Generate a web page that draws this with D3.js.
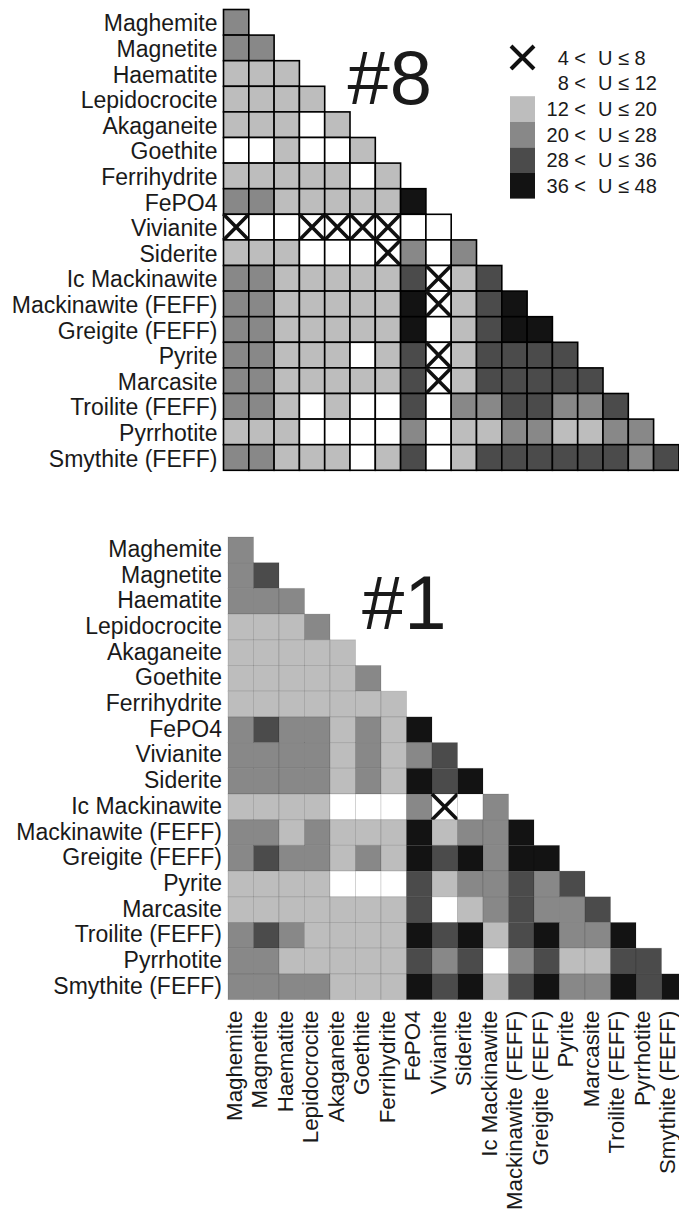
<!DOCTYPE html>
<html>
<head>
<meta charset="utf-8">
<script src="https://cdn.jsdelivr.net/npm/d3@7"></script>
<style>
  body { margin: 0; background: #fff; }
  text { font-family: "Liberation Sans", Arial, sans-serif; fill: #1a1a1a; }
</style>
</head>
<body>
<div id="chart"></div>
<script>
// Mineral names (rows and columns, same order)
var minerals = ["Maghemite", "Magnetite", "Haematite", "Lepidocrocite", "Akaganeite",
  "Goethite", "Ferrihydrite", "FePO4", "Vivianite", "Siderite", "Ic Mackinawite",
  "Mackinawite (FEFF)", "Greigite (FEFF)", "Pyrite", "Marcasite", "Troilite (FEFF)",
  "Pyrrhotite", "Smythite (FEFF)"];

// U classes: 0 = 4-8 (cross), 1 = 8-12, 2 = 12-20, 3 = 20-28, 4 = 28-36, 5 = 36-48
var classLow = [4, 8, 12, 20, 28, 36];
var classHigh = [8, 12, 20, 28, 36, 48];

// Panel #8, lower triangle, one row per mineral
var panel8 = [
  [3],
  [3, 3],
  [2, 2, 2],
  [2, 2, 2, 2],
  [2, 2, 2, 1, 2],
  [1, 1, 2, 1, 1, 2],
  [2, 2, 2, 2, 2, 1, 2],
  [3, 3, 2, 2, 2, 2, 2, 5],
  [0, 1, 1, 0, 0, 0, 0, 1, 1],
  [2, 2, 2, 1, 1, 1, 0, 3, 1, 3],
  [3, 3, 2, 2, 2, 2, 2, 4, 0, 2, 4],
  [3, 3, 2, 2, 2, 2, 2, 5, 0, 2, 4, 5],
  [3, 3, 2, 2, 2, 2, 2, 5, 1, 2, 4, 5, 5],
  [3, 3, 2, 2, 2, 1, 2, 4, 0, 2, 4, 4, 4, 4],
  [3, 3, 2, 2, 2, 2, 2, 4, 0, 2, 4, 4, 4, 4, 4],
  [3, 3, 2, 1, 2, 1, 1, 4, 1, 3, 3, 4, 4, 3, 3, 4],
  [2, 2, 2, 1, 1, 1, 1, 3, 1, 2, 2, 3, 3, 2, 2, 3, 3],
  [3, 3, 2, 2, 2, 1, 2, 4, 1, 2, 4, 4, 4, 4, 4, 4, 3, 4]
];

// Panel #1
var panel1 = [
  [3],
  [3, 4],
  [3, 3, 3],
  [2, 2, 2, 3],
  [2, 2, 2, 2, 2],
  [2, 2, 2, 2, 2, 3],
  [2, 2, 2, 2, 2, 2, 2],
  [3, 4, 3, 3, 2, 3, 2, 5],
  [3, 3, 3, 3, 2, 3, 2, 3, 4],
  [3, 3, 3, 3, 2, 3, 2, 5, 4, 5],
  [2, 2, 2, 2, 1, 1, 1, 3, 0, 1, 3],
  [3, 3, 2, 3, 2, 2, 2, 5, 2, 3, 3, 5],
  [3, 4, 3, 3, 2, 3, 2, 5, 4, 5, 3, 5, 5],
  [2, 2, 2, 2, 1, 1, 1, 4, 2, 3, 3, 4, 3, 4],
  [2, 2, 2, 2, 2, 2, 2, 4, 1, 2, 3, 4, 3, 3, 4],
  [3, 4, 3, 2, 2, 2, 2, 5, 4, 5, 2, 4, 5, 3, 3, 5],
  [3, 3, 2, 2, 2, 2, 2, 4, 3, 4, 1, 3, 4, 2, 2, 4, 4],
  [3, 3, 3, 3, 2, 2, 2, 5, 4, 5, 2, 4, 5, 3, 3, 5, 4, 5]
];

var svgWidth = 679;
var svgHeight = 1214;

var fill = d3.scaleOrdinal()
  .domain([0, 1, 2, 3, 4, 5])
  .range(["#ffffff", "#ffffff", "#bdbdbd", "#888888", "#4b4b4b", "#131313"]);

var svg = d3.select("#chart")
  .append("svg")
  .attr("width", svgWidth)
  .attr("height", svgHeight);

function cellsOf(matrix) {
  var out = [];
  matrix.forEach(function(row, i) {
    row.forEach(function(v, j) {
      out.push({ row: minerals[i], col: minerals[j], v: v });
    });
  });
  return out;
}

function drawPanel(opt) {
  var g = svg.append("g")
    .attr("transform", `translate(${opt.left}, ${opt.top})`);

  var x = d3.scaleBand().domain(minerals).range([0, opt.cellW * minerals.length]);
  var y = d3.scaleBand().domain(minerals).range([0, opt.cellH * minerals.length]);

  var cells = g.selectAll("g.cell")
    .data(cellsOf(opt.matrix))
    .enter()
    .append("g")
    .attr("class", "cell")
    .attr("transform", d => `translate(${x(d.col)}, ${y(d.row)})`);

  cells.append("rect")
    .attr("width", x.bandwidth())
    .attr("height", y.bandwidth())
    .attr("fill", d => fill(d.v))
    .attr("stroke", opt.stroke)
    .attr("stroke-opacity", opt.strokeOpacity)
    .attr("stroke-width", opt.strokeWidth);

  // crosses for the 4 < U <= 8 class
  cells.filter(d => d.v === 0)
    .append("path")
    .attr("d", `M0,0L${x.bandwidth()},${y.bandwidth()}M${x.bandwidth()},0L0,${y.bandwidth()}`)
    .attr("stroke", "#111")
    .attr("stroke-width", 3.6)
    .attr("fill", "none");

  // row labels
  g.selectAll("text.rowlab")
    .data(minerals)
    .enter()
    .append("text")
    .attr("class", "rowlab")
    .attr("x", -6)
    .attr("y", d => y(d) + y.bandwidth() / 2 + opt.rowDy)
    .attr("text-anchor", "end")
    .style("font-size", "23px")
    .text(d => d);

  // panel title
  g.append("text")
    .attr("x", opt.titleX)
    .attr("y", opt.titleY)
    .style("font-size", "76px")
    .text(opt.title);

  return { g: g, x: x, y: y };
}

var top8 = drawPanel({
  matrix: panel8, left: 223.5, top: 9.5, cellW: 25.3, cellH: 25.6,
  stroke: "#000", strokeOpacity: 1, strokeWidth: 1.6, rowDy: 9,
  title: "#8", titleX: 124, titleY: 94
});

var bottom1 = drawPanel({
  matrix: panel1, left: 228, top: 537, cellW: 25.5, cellH: 25.7,
  stroke: "#000", strokeOpacity: 0.12, strokeWidth: 1, rowDy: 7,
  title: "#1", titleX: 134, titleY: 92
});

// column labels below panel #1
var colLabelTop = bottom1.y.range()[1] + 11;
bottom1.g.selectAll("text.collab")
  .data(minerals)
  .enter()
  .append("text")
  .attr("class", "collab")
  .attr("transform", d => `translate(${bottom1.x(d) + bottom1.x.bandwidth() / 2 + 1}, ${colLabelTop}) rotate(-90)`)
  .attr("text-anchor", "end")
  .style("font-size", "22.3px")
  .text(d => d);

// legend
var legY = d3.scaleBand().domain(d3.range(classLow.length)).range([45, 45 + 25.6 * classLow.length]);
var legend = svg.append("g").attr("transform", "translate(510, 0)");
var items = legend.selectAll("g.leg")
  .data(d3.range(classLow.length))
  .enter()
  .append("g")
  .attr("class", "leg")
  .attr("transform", d => `translate(0, ${legY(d)})`);

items.filter(d => d > 0)
  .append("rect")
  .attr("width", 25)
  .attr("height", legY.bandwidth())
  .attr("fill", d => fill(d));

items.filter(d => d === 0)
  .append("path")
  .attr("d", "M1,1L24,24M24,1L1,24")
  .attr("stroke", "#111")
  .attr("stroke-width", 4)
  .attr("fill", "none");

items.append("text")
  .attr("x", 76)
  .attr("y", legY.bandwidth() / 2 + 7)
  .attr("text-anchor", "end")
  .style("font-size", "20px")
  .text(d => classLow[d] + " <");

items.append("text")
  .attr("x", 88)
  .attr("y", legY.bandwidth() / 2 + 7)
  .style("font-size", "20px")
  .text(d => "U \u2264 " + classHigh[d]);
</script>
</body>
</html>
